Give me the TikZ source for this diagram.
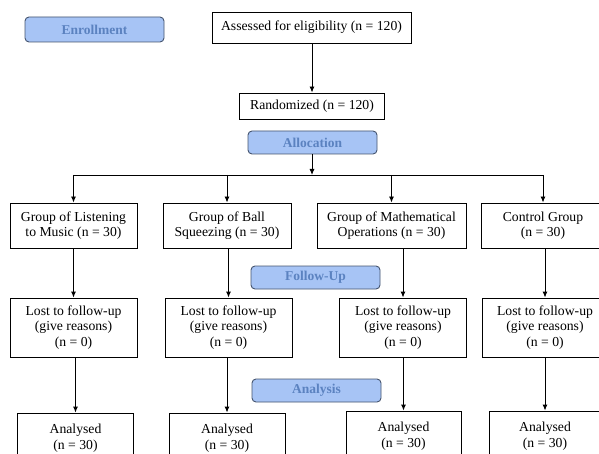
\documentclass[tikz,border=0pt]{standalone}
\usepackage{fontspec}
\setmainfont{Liberation Serif}
\usetikzlibrary{arrows.meta}
\definecolor{phasefill}{HTML}{A7C4F5}
\definecolor{phasetext}{HTML}{5B82C0}
\definecolor{phaseline}{HTML}{46556F}
\begin{document}
\begin{tikzpicture}[x=1pt,y=-1pt,
  box/.style={draw, line width=0.9pt, inner sep=0pt, align=center,
    font=\fontsize{13.7}{15.5}\selectfont},
  phase/.style={draw=phaseline, fill=phasefill, rounded corners=4pt, line width=0.9pt,
    inner sep=0pt, minimum width=129pt, minimum height=23pt, text=phasetext,
    font=\fontsize{13.5}{15}\selectfont\bfseries},
  arr/.style={-{Latex[length=6pt,width=5pt]}, line width=0.9pt}]
\clip (0,0) rectangle (599,454);
\fill[white] (0,0) rectangle (599,454);

% phase labels
\node[phase, minimum width=139pt, minimum height=25pt] (enroll) at (94.5,29.5) {Enrollment};
\node[phase] (alloc) at (312.5,142.5) {Allocation};
\node[phase] (follow) at (315.5,277.5) {Follow-Up};
\node[phase] (analysis) at (316.5,390.5) {Analysis};

% enrollment
\node[box, minimum width=199pt, minimum height=31pt] (assess) at (311.5,27.5) {Assessed for eligibility (n = 120)};
\node[box, minimum width=145pt, minimum height=26pt] (random) at (312,106) {Randomized (n = 120)};
\draw[arr] (assess.south -| random.north) -- (random.north);

% groups
\node[box, minimum width=127pt, minimum height=45pt] (g1) at (73.5,225.5) {Group of Listening\\to Music (n = 30)};
\node[box, minimum width=128pt, minimum height=45pt] (g2) at (227,225.5) {Group of Ball\\Squeezing (n = 30)};
\node[box, minimum width=149pt, minimum height=45pt] (g3) at (391.5,225.5) {Group of Mathematical\\Operations (n = 30)};
\node[box, minimum width=124pt, minimum height=45pt] (g4) at (543,225.5) {Control Group\\(n = 30)};

\coordinate (split) at (312,175);
\draw[arr] (alloc.south -| split) -- (split);
\draw[line width=0.9pt] (split -| g1.north) -- (split -| g4.north);
\foreach \g in {g1,g2,g3,g4}
  \draw[arr] (split -| \g.north) -- (\g.north);

% follow-up
\node[box, minimum width=127pt, minimum height=59pt] (l1) at (73.5,327.5) {Lost to follow-up\\(give reasons)\\(n = 0)};
\node[box, minimum width=127pt, minimum height=59pt] (l2) at (228.5,327.5) {Lost to follow-up\\(give reasons)\\(n = 0)};
\node[box, minimum width=127pt, minimum height=59pt] (l3) at (403,327.5) {Lost to follow-up\\(give reasons)\\(n = 0)};
\node[box, minimum width=126pt, minimum height=59pt] (l4) at (545,327.5) {Lost to follow-up\\(give reasons)\\(n = 0)};
\foreach \g/\l in {g1/l1,g2/l2,g3/l3,g4/l4}
  \draw[arr] (\g.south -| \l.north) -- (\l.north);

% analysis
\node[box, minimum width=116pt, minimum height=50pt] (a1) at (75.5,438) {Analysed\\(n = 30)};
\node[box, minimum width=116pt, minimum height=50pt] (a2) at (227,438) {Analysed\\(n = 30)};
\node[box, minimum width=115pt, minimum height=50pt] (a3) at (403.5,436) {Analysed\\(n = 30)};
\node[box, minimum width=112pt, minimum height=50pt] (a4) at (545,436) {Analysed\\(n = 30)};
\foreach \l/\a in {l1/a1,l2/a2,l3/a3,l4/a4}
  \draw[arr] (\l.south -| \a.north) -- (\a.north);
\end{tikzpicture}
\end{document}
